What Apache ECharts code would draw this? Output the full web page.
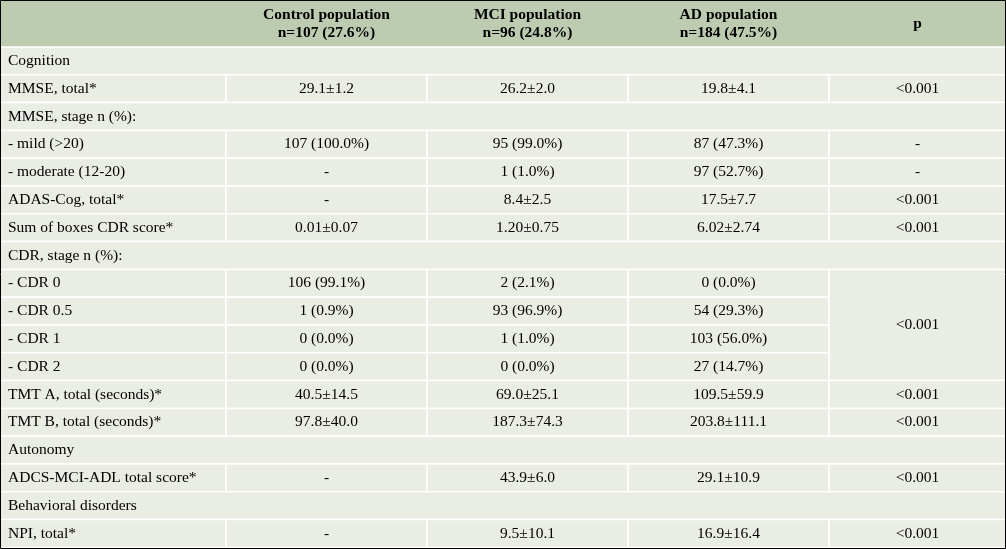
<!DOCTYPE html>
<html>
<head>
<meta charset="utf-8">
<script src="https://cdn.jsdelivr.net/npm/echarts@6/dist/echarts.min.js"></script>
<style>html,body{margin:0;padding:0;background:#fff}#main{width:1006px;height:549px}</style>
</head>
<body>
<div id="main"></div>
<script>
// header texts
var headers = ['', 'Control population\nn=107 (27.6%)', 'MCI population\nn=96 (24.8%)', 'AD population\nn=184 (47.5%)', 'p'];
// row labels; null values mean a section row spanning the whole width
var labels = ['Cognition', 'MMSE, total*', 'MMSE, stage n (%):', '- mild (>20)', '- moderate (12-20)',
  'ADAS-Cog, total*', 'Sum of boxes CDR score*', 'CDR, stage n (%):', '- CDR 0', '- CDR 0.5', '- CDR 1', '- CDR 2',
  'TMT A, total (seconds)*', 'TMT B, total (seconds)*', 'Autonomy', 'ADCS-MCI-ADL total score*',
  'Behavioral disorders', 'NPI, total*'];
var control = [null, '29.1±1.2', null, '107 (100.0%)', '-', '-', '0.01±0.07', null, '106 (99.1%)', '1 (0.9%)',
  '0 (0.0%)', '0 (0.0%)', '40.5±14.5', '97.8±40.0', null, '-', null, '-'];
var mci = [null, '26.2±2.0', null, '95 (99.0%)', '1 (1.0%)', '8.4±2.5', '1.20±0.75', null, '2 (2.1%)', '93 (96.9%)',
  '1 (1.0%)', '0 (0.0%)', '69.0±25.1', '187.3±74.3', null, '43.9±6.0', null, '9.5±10.1'];
var ad = [null, '19.8±4.1', null, '87 (47.3%)', '97 (52.7%)', '17.5±7.7', '6.02±2.74', null, '0 (0.0%)', '54 (29.3%)',
  '103 (56.0%)', '27 (14.7%)', '109.5±59.9', '203.8±111.1', null, '29.1±10.9', null, '16.9±16.4'];
// 'merge' = p cell merged with the row above
var pvals = [null, '<0.001', null, '-', '-', '<0.001', '<0.001', null, '<0.001', 'merge', 'merge', 'merge',
  '<0.001', '<0.001', null, '<0.001', null, '<0.001'];

var colEdges = [0, 226, 427, 628, 829, 1006];
var headerH = 47, rowH = 27.8;

var cells = [];
headers.forEach(function (h, c) {
  cells.push([colEdges[c], colEdges[c + 1], 0, headerH, h, c === 0 ? 'left' : 'center', 1, 1]);
});
labels.forEach(function (lab, r) {
  var y0 = headerH + r * rowH, y1 = y0 + rowH;
  if (control[r] === null) { cells.push([0, 1006, y0, y1, lab, 'left', 0, 0]); return; }
  cells.push([0, colEdges[1], y0, y1, lab, 'left', 0, 0]);
  [control, mci, ad].forEach(function (arr, k) {
    cells.push([colEdges[k + 1], colEdges[k + 2], y0, y1, arr[r], 'center', 0, 0]);
  });
  if (pvals[r] === 'merge') return;
  var span = 1;
  while (pvals[r + span] === 'merge') span++;
  cells.push([colEdges[4], colEdges[5], y0, y0 + span * rowH, pvals[r], 'center', 0, 0]);
});

var chart = echarts.init(document.getElementById('main'));
chart.setOption({
  animation: false,
  grid: { left: 0, right: 0, top: 0, bottom: 0 },
  xAxis: { type: 'value', min: 0, max: 1006, show: false },
  yAxis: { type: 'value', min: 0, max: 549, inverse: true, show: false },
  series: [{
    type: 'custom',
    data: cells,
    encode: { x: [0, 1], y: [2, 3] },
    renderItem: function (params, api) {
      var p0 = api.coord([api.value(0), api.value(2)]);
      var p1 = api.coord([api.value(1), api.value(3)]);
      var align = api.value(5);
      var head = api.value(7) === 1;
      var txt = cells[params.dataIndex][4];
      return {
        type: 'group',
        children: [{
          type: 'rect',
          shape: { x: p0[0], y: p0[1], width: p1[0] - p0[0], height: p1[1] - p0[1] },
          style: { fill: head ? '#bdcbb1' : '#e9ede3', stroke: head ? '#bdcbb1' : '#ffffff', lineWidth: 1.5 }
        }, {
          type: 'text',
          style: {
            text: txt, x: align === 'left' ? p0[0] + 8 : (p0[0] + p1[0]) / 2, y: (p0[1] + p1[1]) / 2,
            align: align, verticalAlign: 'middle', fill: '#000',
            font: (head ? 'bold ' : '') + '15.5px "Liberation Serif", serif', lineHeight: 18
          }
        }]
      };
    }
  }],
  graphic: [{ type: 'rect', shape: { x: 0.5, y: 0.5, width: 1005, height: 548 },
    style: { fill: null, stroke: '#000', lineWidth: 1 }, z: 100 }]
});
</script>
</body>
</html>
